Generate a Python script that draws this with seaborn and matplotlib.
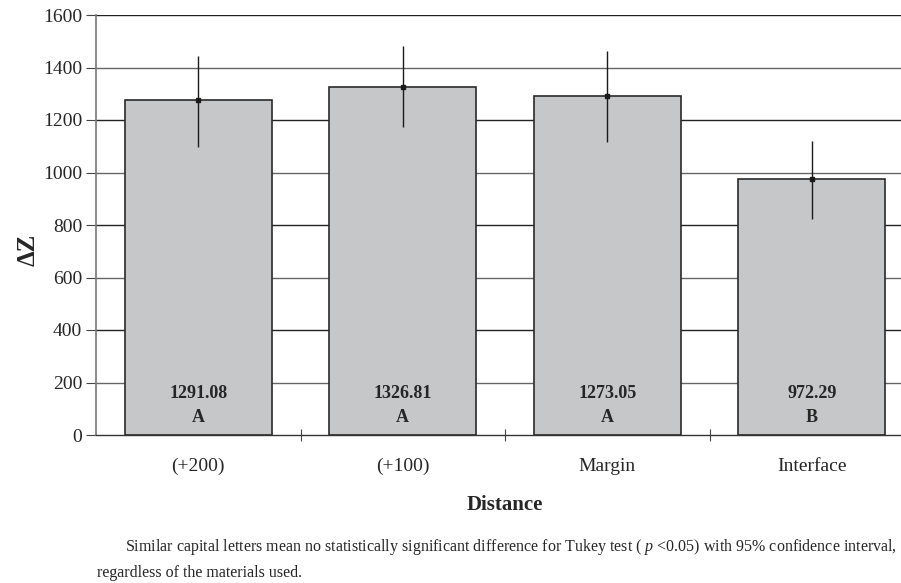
import matplotlib
matplotlib.use("Agg")
import matplotlib.pyplot as plt
import seaborn as sns
import numpy as np
import pandas as pd

categories = ["(+200)", "(+100)", "Margin", "Interface"]
means = [1276, 1325, 1293, 974]
err_low = [1098, 1173, 1116, 823]
err_high = [1443, 1482, 1463, 1119]
bar_labels = ["1291.08", "1326.81", "1273.05", "972.29"]
group_letters = ["A", "A", "A", "B"]
yticks = [0, 200, 400, 600, 800, 1000, 1200, 1400, 1600]

sns.set_theme(style="white")
plt.rcParams["font.family"] = ["Liberation Serif", "DejaVu Serif"]
plt.rcParams["mathtext.fontset"] = "custom"
plt.rcParams["mathtext.rm"] = "Liberation Serif"
plt.rcParams["mathtext.it"] = "Liberation Serif:italic"
plt.rcParams["mathtext.bf"] = "Liberation Serif:bold"

W, H = 901, 583
fig = plt.figure(figsize=(W / 100, H / 100), dpi=100)
ax = fig.add_axes([96 / W, (H - 435) / H, 818 / W, 420 / H])

df = pd.DataFrame({"cat": categories, "val": means})
sns.barplot(data=df, x="cat", y="val", order=categories, width=0.72,
            color="#C6C7C9", saturation=1, edgecolor="#2a2a2a", linewidth=1.2,
            errorbar=None, ax=ax, zorder=2)

x = np.arange(len(categories))
ax.errorbar(x, means,
            yerr=[np.array(means) - np.array(err_low), np.array(err_high) - np.array(means)],
            fmt="s", color="#1a1a1a", markersize=3, elinewidth=1.0, capsize=0, zorder=3)

ax.set_xlim(-0.5, 3.5)
ax.set_ylim(0, 1600)
ax.set_yticks(yticks)
ax.set_yticklabels([str(t) for t in yticks], fontsize=14)
for k, t in enumerate(yticks[1:]):
    ax.axhline(t, color="#222222" if k % 2 == 1 else "#666666", lw=1.0, zorder=1)

ax.set_xticks([0.5, 1.5, 2.5])
ax.set_xticklabels([])
ax.tick_params(axis="x", direction="inout", length=9, width=0.8, color="#444444", bottom=True)
ax.tick_params(axis="y", direction="out", length=7, width=0.8, color="#444444", left=True, pad=3)
for i, c in enumerate(categories):
    ax.text(i, -120, c, ha="center", va="center", fontsize=14)

for s in ["top", "right"]:
    ax.spines[s].set_visible(False)
ax.spines["left"].set_color("#777777")
ax.spines["left"].set_linewidth(1.2)
ax.spines["bottom"].set_color("#333333")
ax.spines["bottom"].set_linewidth(1.0)

for i, (lab, let) in enumerate(zip(bar_labels, group_letters)):
    ax.text(i, 160, lab, ha="center", va="center", fontsize=13, fontweight="bold", zorder=4)
    ax.text(i, 68, let, ha="center", va="center", fontsize=13, fontweight="bold", zorder=4)

ax.set_xlabel("")
ax.set_ylabel("")
fig.text(28 / W, 1 - 250 / H, "ΔZ", rotation=90, ha="center", va="center",
         fontsize=18, fontweight="bold")
fig.text(505 / W, 1 - 505 / H, "Distance", ha="center", va="center",
         fontsize=15, fontweight="bold")
fig.text(125 / W, 1 - 547 / H,
         "Similar capital letters mean no statistically significant difference for Tukey test ( $\\mathit{p}$ <0.05) with 95% confidence interval,",
         ha="left", va="center", fontsize=11.5)
fig.text(97 / W, 1 - 573 / H, "regardless of the materials used.",
         ha="left", va="center", fontsize=11.5)

fig.savefig("out.png", dpi=100)
